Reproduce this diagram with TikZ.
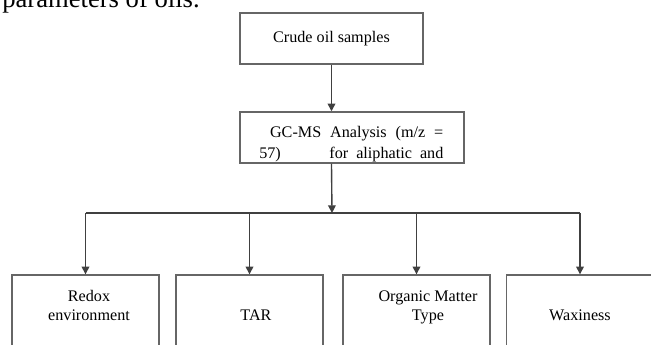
\documentclass[tikz,border=0pt]{standalone}
\usepackage{fontspec}
\setmainfont{Liberation Serif}
\usetikzlibrary{arrows.meta}

\tikzset{
  box/.style={draw=black!60, line width=0.9pt, inner sep=0},
  leaf/.style={box, minimum width=95.6pt, minimum height=58.5pt},
  line/.style={draw=black!75, line width=0.9pt},
  arr/.style={line, -{Triangle[length=5pt,width=5pt]}},
  txt/.style={inner sep=0, anchor=base, font=\fontsize{10.5}{12.6}\selectfont},
}

\begin{document}
\begin{tikzpicture}[x=0.65pt,y=-0.65pt]

\clip (0,0) rectangle (651,345);

\node [anchor=base west, inner sep=0, font=\fontsize{17.3}{20}\selectfont] (intro) at (2,7.5) {parameters of oils.};

\node [box, minimum width=119pt, minimum height=33.2pt, font=\fontsize{10.5}{12.6}\selectfont] (crude) at (331.5,38.5) {Crude oil samples};

\node [box, minimum width=145.6pt, minimum height=33.2pt] (gcms) at (352,137.5) {};
\node [txt, anchor=base west] (gctext) at (259,138)
  {\parbox[t]{119.6pt}{\hspace*{7pt}GC-MS\hfill Analysis\hfill (m/z\hfill =\\[1pt]
   57)\hfill for\ \ aliphatic\ \ and}};

\node [leaf] (redox) at (85.5,320) {};
\node [leaf] (tar) at (249.5,320) {};
\node [leaf] (omtype) at (416.5,320) {};
\node [leaf] (waxy) at (580,320) {};

\node [txt] (redoxtext) at (89,301) {\begin{tabular}[t]{@{}c@{}}Redox\\environment\end{tabular}};
\node [txt] (tartext) at (256,320) {TAR};
\node [txt] (omtext) at (428,301) {\begin{tabular}[t]{@{}c@{}}Organic Matter\\Type\end{tabular}};
\node [txt] (waxtext) at (580,320) {Waxiness};

\coordinate (split) at (332,213);

\draw [arr] (crude.south) -- (crude.south |- gcms.north);
\draw [arr] (crude.south |- gcms.south) -- (split);
\draw [line] (split -| redox.north) -- (split -| waxy.north);
\foreach \n in {redox,tar,omtype,waxy}
  \draw [arr] (split -| \n.north) -- (\n.north);

\end{tikzpicture}
\end{document}
